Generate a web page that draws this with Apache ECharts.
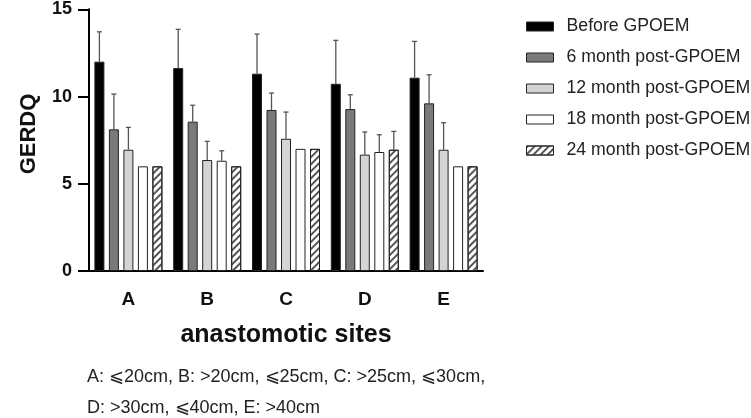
<!DOCTYPE html>
<html>
<head>
<meta charset="utf-8">
<script src="https://cdn.jsdelivr.net/npm/echarts@6/dist/echarts.min.js"></script>
<style>
html,body{margin:0;padding:0;background:#fff;}
#chart{width:751px;height:418px;}
</style>
</head>
<body>
<div id="chart"></div>
<script>
// ---- data ----
var categories = ['A', 'B', 'C', 'D', 'E'];
var seriesNames = ['Before GPOEM', '6 month post-GPOEM', '12 month post-GPOEM', '18 month post-GPOEM', '24 month post-GPOEM'];
var before = [12.0, 11.63, 11.31, 10.73, 11.08];
var beforeUpper = [13.71, 13.85, 13.58, 13.22, 13.16];
var m6 = [8.12, 8.56, 9.23, 9.28, 9.61];
var m6Upper = [10.14, 9.50, 10.20, 10.10, 11.25];
var m12 = [6.95, 6.36, 7.58, 6.67, 6.95];
var m12Upper = [8.23, 7.43, 9.11, 7.97, 8.50];
var m18 = [6.0, 6.32, 7.0, 6.82, 6.0];
var m18Upper = [null, 6.89, null, 7.81, null];
var m24 = [6.0, 6.0, 7.0, 6.95, 6.0];
var m24Upper = [null, null, null, 8.0, null];
var yTicks = [0, 5, 10, 15];
var yTitle = 'GERDQ';
var xTitle = 'anastomotic sites';
var footLine1 = 'A: \u2A7D20cm, B: >20cm, \u2A7D25cm, C: >25cm, \u2A7D30cm,';
var footLine2 = 'D: >30cm, \u2A7D40cm, E: >40cm';

var values = [before, m6, m12, m18, m24];
var uppers = [beforeUpper, m6Upper, m12Upper, m18Upper, m24Upper];
var colors = ['#000000', '#7a7a7a', '#d4d4d4', '#ffffff', '#ffffff'];

var FONT = '"Liberation Sans", Arial, sans-serif';
var BAR_W = 10;
var BAR_GAP = '45%';

var chart = echarts.init(document.getElementById('chart'), null, {renderer: 'canvas'});

var series = [];
values.forEach(function (vals, i) {
  var s = {
    name: seriesNames[i],
    type: 'bar',
    data: vals,
    barWidth: BAR_W,
    barGap: BAR_GAP,
    itemStyle: {color: colors[i], borderColor: '#222', borderWidth: 1},
    emphasis: {disabled: true},
    z: 2
  };
  if (i === 4) {
    s.itemStyle.decal = {
      symbol: 'rect',
      symbolSize: 1,
      dashArrayX: [1, 0],
      dashArrayY: [1.2, 3],
      rotation: -Math.PI / 4,
      color: '#555'
    };
  }
  series.push(s);
});

uppers.forEach(function (up, i) {
  var data = [];
  up.forEach(function (u, k) {
    if (u != null) data.push([k, values[i][k], u]);
  });
  series.push({
    type: 'custom',
    name: seriesNames[i] + ' err',
    data: data,
    z: 3,
    silent: true,
    encode: {x: 0, y: [1, 2]},
    renderItem: function (params, api) {
      var layout = api.barLayout({count: 5, barWidth: BAR_W, barGap: BAR_GAP});
      var off = layout[i].offsetCenter;
      var base = api.coord([api.value(0), api.value(1)]);
      var top = api.coord([api.value(0), api.value(2)]);
      var x = base[0] + off;
      var cap = 2.5;
      return {
        type: 'group',
        children: [
          {type: 'line', shape: {x1: x, y1: base[1], x2: x, y2: top[1]}, style: {stroke: '#555', lineWidth: 1.3}},
          {type: 'line', shape: {x1: x - cap, y1: top[1], x2: x + cap, y2: top[1]}, style: {stroke: '#555', lineWidth: 1.3}}
        ]
      };
    }
  });
});

var option = {
  backgroundColor: '#fff',
  animation: false,
  textStyle: {fontFamily: FONT},
  grid: {left: 89, right: 268, top: 9.3, bottom: 147, containLabel: false},
  legend: {
    orient: 'vertical',
    left: 521,
    top: 11.5,
    data: seriesNames,
    icon: 'rect',
    itemWidth: 27,
    itemHeight: 9,
    itemGap: 11,
    itemStyle: {borderColor: '#222', borderWidth: 1},
    textStyle: {fontSize: 17.7, color: '#222', fontFamily: FONT, lineHeight: 20, padding: [0, 0, 0, 8]}
  },
  xAxis: {
    type: 'category',
    data: categories,
    axisLine: {lineStyle: {color: '#000', width: 2}},
    axisTick: {alignWithLabel: true, length: 10, lineStyle: {color: '#000', width: 2}},
    axisLabel: {fontSize: 19, fontWeight: 'bold', color: '#111', margin: 19, fontFamily: FONT},
    name: xTitle,
    nameLocation: 'middle',
    nameGap: 52,
    nameTextStyle: {fontSize: 25, fontWeight: 'bold', color: '#111', fontFamily: FONT}
  },
  yAxis: {
    type: 'value',
    min: yTicks[0],
    max: yTicks[yTicks.length - 1],
    interval: yTicks[1] - yTicks[0],
    splitLine: {show: false},
    axisLine: {show: true, lineStyle: {color: '#000', width: 2}},
    axisTick: {show: true, length: 11, lineStyle: {color: '#000', width: 2}},
    axisLabel: {fontSize: 18, fontWeight: 'bold', color: '#111', margin: 17, fontFamily: FONT}
  },
  graphic: [
    {type: 'text', x: 29, y: 134, rotation: Math.PI / 2,
      style: {text: yTitle, font: 'bold 22px ' + FONT, fill: '#111', textAlign: 'center', textVerticalAlign: 'middle'}},
    {type: 'text', x: 87, y: 377, style: {text: footLine1, font: '18px ' + FONT, fill: '#222', textVerticalAlign: 'middle'}},
    {type: 'text', x: 87, y: 408, style: {text: footLine2, font: '18px ' + FONT, fill: '#222', textVerticalAlign: 'middle'}}
  ],
  series: series
};
chart.setOption(option);
</script>
</body>
</html>
